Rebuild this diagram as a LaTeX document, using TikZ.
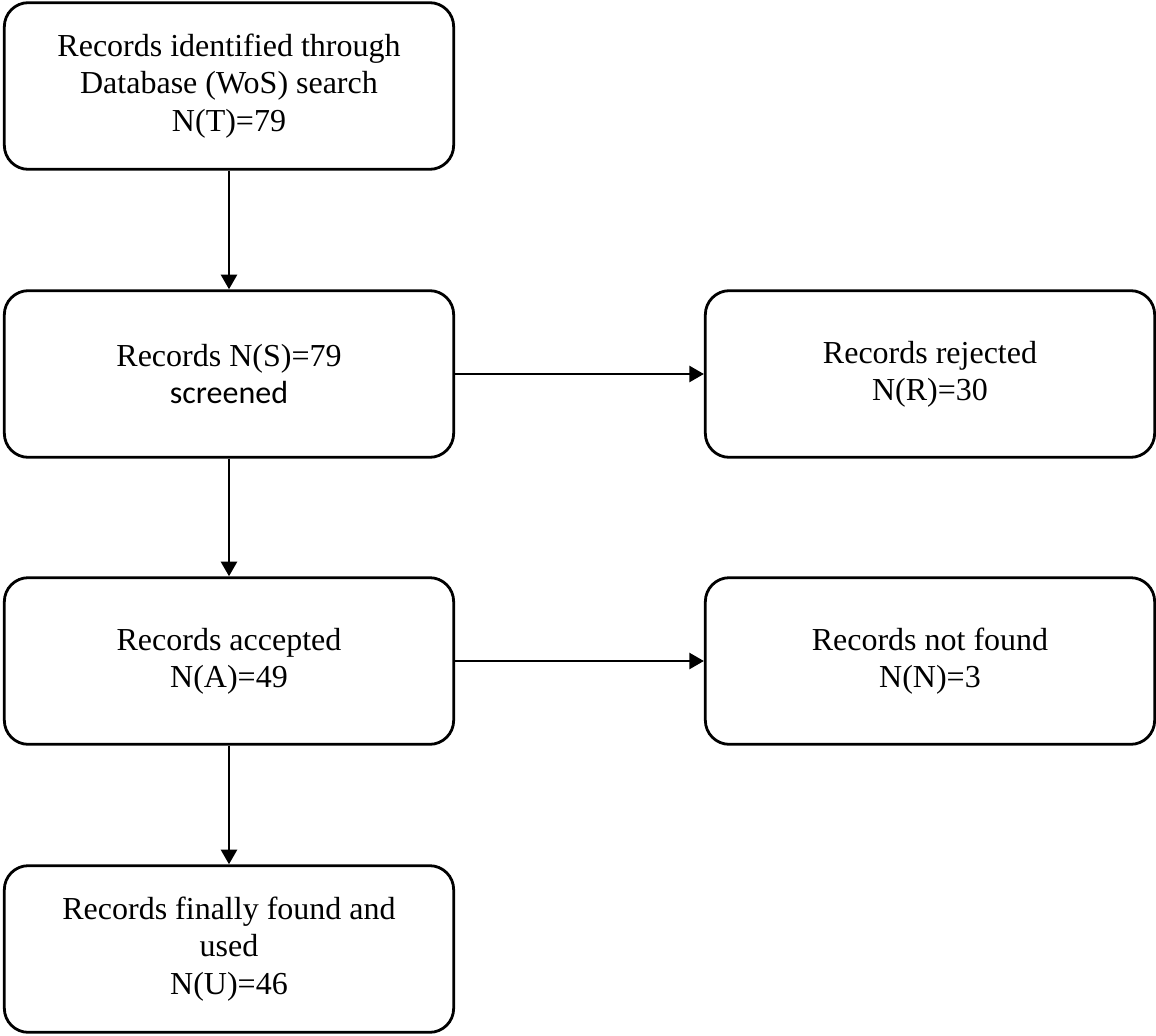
\documentclass[tikz,border=0pt]{standalone}
\usepackage{fontspec}
\setmainfont{Liberation Serif}
\newfontfamily\screenfont{Carlito}
\usepackage{tikz}
\usetikzlibrary{shapes,arrows.meta,positioning,calc}
\tikzstyle{record} = [draw,rounded corners=18pt,line width=2.1pt,minimum width=337pt,minimum height=125pt,align=center,inner sep=0pt,font=\fontsize{24}{28}\selectfont]
\tikzset{>={Triangle[length=11pt,width=12pt]}}
\begin{document}
\begin{tikzpicture}[x=0.75pt,y=-0.75pt,line width=2.1pt]
    \useasboundingbox (0,0) rectangle (1156,1035);

    \node [record] (T) at (229,86) {Records identified through\\Database (WoS) search\\N(T)=79};
    \node [record] (S) at (229,374) {Records N(S)=79\\{\screenfont screened}};
    \node [record] (R) at (930,374) {Records rejected\\N(R)=30};
    \node [record] (A) at (229,661) {Records accepted\\N(A)=49};
    \node [record] (N) at (930,661) {Records not found\\N(N)=3};
    \node [record] (U) at (229,949) {Records finally found and\\used\\N(U)=46};

    \draw [->] (T) -- (S);
    \draw [->] (S) -- (R);
    \draw [->] (S) -- (A);
    \draw [->] (A) -- (N);
    \draw [->] (A) -- (U);
  \end{tikzpicture}
\end{document}
